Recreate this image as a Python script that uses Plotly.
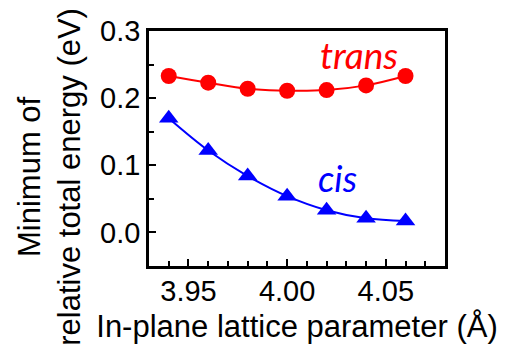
import plotly.graph_objects as go

# Data
lattice = [3.94, 3.96, 3.98, 4.00, 4.02, 4.04, 4.06]
trans_energy = [0.233, 0.223, 0.214, 0.211, 0.212, 0.219, 0.233]
cis_energy = [0.170, 0.122, 0.084, 0.054, 0.033, 0.021, 0.017]

x_tickvals = [3.95, 4.00, 4.05]
x_ticktext = ["3.95", "4.00", "4.05"]
y_tickvals = [0.0, 0.1, 0.2, 0.3]
y_ticktext = ["0.0", "0.1", "0.2", "0.3"]

FONT = "Arial, 'Liberation Sans', sans-serif"

fig = go.Figure()
fig.add_trace(go.Scatter(
    x=lattice, y=trans_energy, mode="lines+markers",
    line=dict(color="#FF0000", width=2, shape="spline"),
    marker=dict(symbol="circle", size=16, color="#FF0000"),
    showlegend=False,
))
fig.add_trace(go.Scatter(
    x=lattice, y=cis_energy, mode="lines+markers",
    line=dict(color="#0000FF", width=2, shape="spline"),
    marker=dict(symbol="triangle-up", size=17, color="#0000FF"),
    showlegend=False,
))

axis_font = dict(family=FONT, size=29, color="black")

fig.update_xaxes(
    range=[3.93, 4.08],
    tickvals=x_tickvals, ticktext=x_ticktext,
    ticks="inside", ticklen=7, tickwidth=2, tickcolor="black",
    minor=dict(dtick=0.01, tick0=3.93, ticks="inside", ticklen=5, tickwidth=2, tickcolor="black"),
    showline=True, linewidth=2.5, linecolor="black", mirror=True,
    showgrid=False, zeroline=False,
    tickfont=axis_font, ticklabelstandoff=-3,
    title=dict(text="In-plane lattice parameter (Å)",
               font=dict(family=FONT, size=31, color="black"),
               standoff=10),
)
fig.update_yaxes(
    range=[-0.05, 0.3],
    tickvals=y_tickvals, ticktext=y_ticktext,
    ticks="inside", ticklen=7, tickwidth=2, tickcolor="black",
    minor=dict(dtick=0.05, tick0=0, ticks="inside", ticklen=5, tickwidth=2, tickcolor="black"),
    showline=True, linewidth=2.5, linecolor="black", mirror=True,
    showgrid=False, zeroline=False,
    tickfont=axis_font,
)

fig.add_annotation(
    text="Minimum of<br>relative total energy (eV)",
    xref="paper", yref="paper", x=-0.335, y=0.379,
    xanchor="center", yanchor="middle", textangle=-90, showarrow=False,
    font=dict(family=FONT, size=31, color="black"),
)
fig.add_annotation(
    text="trans", xref="paper", yref="paper", x=0.709, y=0.90,
    xanchor="center", yanchor="middle", showarrow=False,
    font=dict(family="Lato, sans-serif", size=37, color="#FF0000", style="italic"),
)
fig.add_annotation(
    text="cis", xref="paper", yref="paper", x=0.638, y=0.374,
    xanchor="center", yanchor="middle", showarrow=False,
    font=dict(family="Lato, sans-serif", size=36, color="#0000FF", style="italic"),
)

fig.update_layout(
    width=522, height=353,
    margin=dict(l=149, r=77, t=31, b=87),
    paper_bgcolor="white", plot_bgcolor="white",
)

fig.write_html("out.html")
